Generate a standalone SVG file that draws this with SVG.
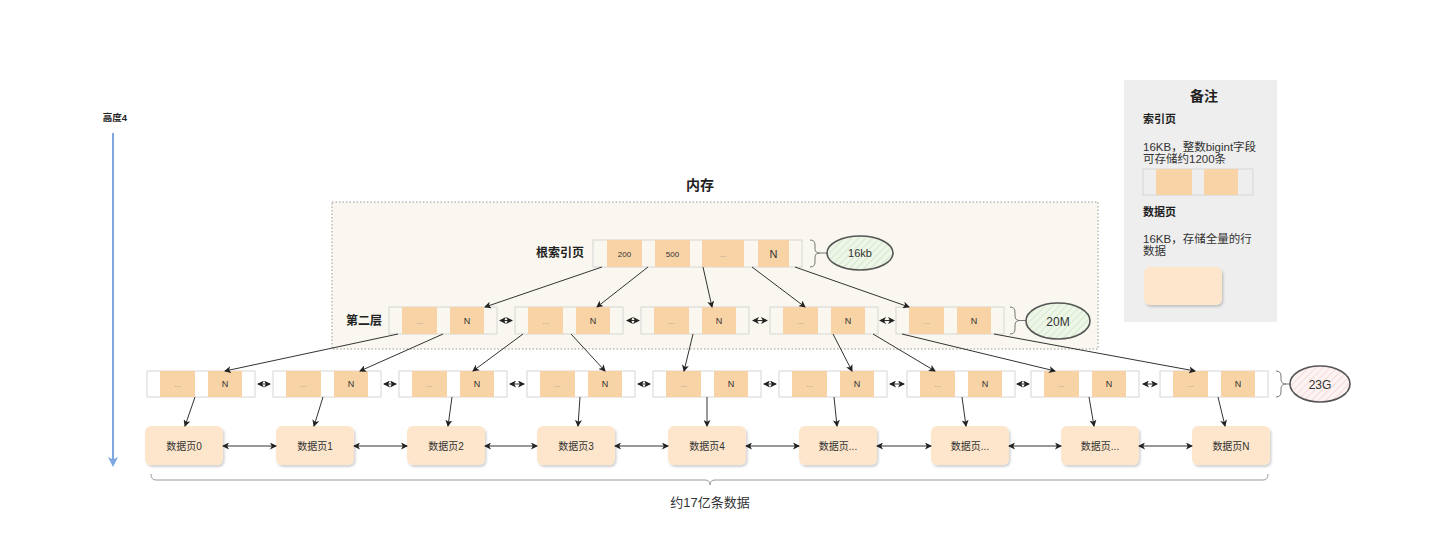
<svg xmlns="http://www.w3.org/2000/svg" width="1438" height="546" viewBox="0 0 1438 546">
<style>
text{font-family:"Liberation Sans","Noto Sans CJK SC",sans-serif;fill:#333}
.b{font-weight:bold;fill:#222}
.box{fill:none;stroke:#d6d6d6;stroke-width:1}
.cell{fill:#f8d3a6}
.sm{font-size:8px;text-anchor:middle}
.dots{font-size:8px;text-anchor:middle;fill:#999}
.n{font-size:9px;text-anchor:middle}
.page{fill:#fde6cc;filter:url(#sh)}
.pt{font-size:10px;text-anchor:middle}
.c{stroke:#333;stroke-width:1;fill:none;marker-end:url(#ah)}
.bi{stroke:#333;stroke-width:1;fill:none;marker-end:url(#ah);marker-start:url(#as)}
.br{stroke:#777;stroke-width:1;fill:none}
.ell{stroke:#555;stroke-width:1.6}
</style>
<defs>
<marker id="ah" markerWidth="7" markerHeight="7" refX="6" refY="3.5" orient="auto" markerUnits="userSpaceOnUse"><path d="M0,0 L7,3.5 L0,7 L1.8,3.5 z" fill="#222"/></marker>
<marker id="as" markerWidth="7" markerHeight="7" refX="1" refY="3.5" orient="auto" markerUnits="userSpaceOnUse"><path d="M7,0 L0,3.5 L7,7 L5.2,3.5 z" fill="#222"/></marker>
<marker id="ab" markerWidth="10" markerHeight="10" refX="8" refY="5" orient="auto" markerUnits="userSpaceOnUse"><path d="M0,0 L10,5 L0,10 L2.5,5 z" fill="#7ea6e0"/></marker>
<pattern id="hg" width="5" height="5" patternUnits="userSpaceOnUse" patternTransform="rotate(45)"><rect width="5" height="5" fill="#eef6e8"/><line x1="0" y1="0" x2="0" y2="5" stroke="#cfe4c6" stroke-width="1.5"/></pattern>
<pattern id="hp" width="5" height="5" patternUnits="userSpaceOnUse" patternTransform="rotate(45)"><rect width="5" height="5" fill="#fcf3f2"/><line x1="0" y1="0" x2="0" y2="5" stroke="#f3d3d0" stroke-width="1.5"/></pattern>
<filter id="sh" x="-10%" y="-10%" width="130%" height="140%"><feDropShadow dx="1.5" dy="2" stdDeviation="1" flood-color="#000" flood-opacity="0.18"/></filter>
</defs>
<rect width="1438" height="546" fill="#fff"/>

<!-- height axis -->
<g id="height">
<text class="b" x="115" y="121" font-size="9.5" text-anchor="middle">高度4</text>
<line x1="113" y1="133" x2="113" y2="465" stroke="#7ea6e0" stroke-width="2" marker-end="url(#ab)"/>
</g>

<!-- memory container -->
<g id="memory">
<rect x="332" y="202" width="766" height="147" fill="#f9f7ef" stroke="#999" stroke-dasharray="1.5 2"/>
<text class="b" x="700" y="190" font-size="14" text-anchor="middle">内存</text>
</g>

<!-- root -->
<g id="root">
<text class="b" x="584" y="257" font-size="12" text-anchor="end">根索引页</text>
<rect class="box" x="593" y="240" width="209" height="27"/>
<rect class="cell" x="607" y="240" width="35" height="27"/>
<rect class="cell" x="655" y="240" width="35" height="27"/>
<rect class="cell" x="702" y="240" width="42" height="27"/>
<rect class="cell" x="758" y="240" width="31" height="27"/>
<text class="sm" x="624.5" y="256.5">200</text>
<text class="sm" x="672.5" y="256.5">500</text>
<text class="dots" x="723" y="256.5">...</text>
<text x="773.5" y="257.5" font-size="11" text-anchor="middle">N</text>
</g>
<g id="root-size">
<path class="br" d="M810,240 Q815,240 815,245 L815,249 Q815,253 820,253 Q815,253 815,257 L815,262 Q815,267 810,267 M820,253 L827,253"/>
<ellipse class="ell" cx="860" cy="253" rx="33" ry="17" fill="url(#hg)"/>
<text x="860" y="257" font-size="11" text-anchor="middle">16kb</text>
</g>

<!-- layer 2 -->
<text class="b" x="382" y="325" font-size="12" text-anchor="end">第二层</text>
<g id="l2n1" transform="translate(389,307)"><rect class="box" width="108" height="27"/><rect class="cell" x="13" width="35" height="27"/><rect class="cell" x="61" width="34" height="27"/><text class="dots" x="30.5" y="16.5">...</text><text class="n" x="78" y="16.5">N</text></g>
<g id="l2n2" transform="translate(515,307)"><rect class="box" width="108" height="27"/><rect class="cell" x="13" width="35" height="27"/><rect class="cell" x="61" width="34" height="27"/><text class="dots" x="30.5" y="16.5">...</text><text class="n" x="78" y="16.5">N</text></g>
<g id="l2n3" transform="translate(641,307)"><rect class="box" width="108" height="27"/><rect class="cell" x="13" width="35" height="27"/><rect class="cell" x="61" width="34" height="27"/><text class="dots" x="30.5" y="16.5">...</text><text class="n" x="78" y="16.5">N</text></g>
<g id="l2n4" transform="translate(770,307)"><rect class="box" width="108" height="27"/><rect class="cell" x="13" width="35" height="27"/><rect class="cell" x="61" width="34" height="27"/><text class="dots" x="30.5" y="16.5">...</text><text class="n" x="78" y="16.5">N</text></g>
<g id="l2n5" transform="translate(896,307)"><rect class="box" width="108" height="27"/><rect class="cell" x="13" width="35" height="27"/><rect class="cell" x="61" width="34" height="27"/><text class="dots" x="30.5" y="16.5">...</text><text class="n" x="78" y="16.5">N</text></g>
<g id="l2-size">
<path class="br" d="M1010,307 Q1015,307 1015,312 L1015,316 Q1015,320.5 1020,320.5 Q1015,320.5 1015,325 L1015,329 Q1015,334 1010,334 M1020,320.5 L1026,320.5"/>
<ellipse class="ell" cx="1058" cy="321" rx="32" ry="18" fill="url(#hg)"/>
<text x="1058" y="325.5" font-size="12" text-anchor="middle">20M</text>
</g>

<!-- layer 3 -->
<g id="l3n1" transform="translate(147,371)"><rect class="box" width="108" height="26"/><rect class="cell" x="13" width="35" height="26"/><rect class="cell" x="61" width="34" height="26"/><text class="dots" x="30.5" y="16">...</text><text class="n" x="78" y="16">N</text></g>
<g id="l3n2" transform="translate(273,371)"><rect class="box" width="108" height="26"/><rect class="cell" x="13" width="35" height="26"/><rect class="cell" x="61" width="34" height="26"/><text class="dots" x="30.5" y="16">...</text><text class="n" x="78" y="16">N</text></g>
<g id="l3n3" transform="translate(399,371)"><rect class="box" width="108" height="26"/><rect class="cell" x="13" width="35" height="26"/><rect class="cell" x="61" width="34" height="26"/><text class="dots" x="30.5" y="16">...</text><text class="n" x="78" y="16">N</text></g>
<g id="l3n4" transform="translate(527,371)"><rect class="box" width="108" height="26"/><rect class="cell" x="13" width="35" height="26"/><rect class="cell" x="61" width="34" height="26"/><text class="dots" x="30.5" y="16">...</text><text class="n" x="78" y="16">N</text></g>
<g id="l3n5" transform="translate(653,371)"><rect class="box" width="108" height="26"/><rect class="cell" x="13" width="35" height="26"/><rect class="cell" x="61" width="34" height="26"/><text class="dots" x="30.5" y="16">...</text><text class="n" x="78" y="16">N</text></g>
<g id="l3n6" transform="translate(779,371)"><rect class="box" width="108" height="26"/><rect class="cell" x="13" width="35" height="26"/><rect class="cell" x="61" width="34" height="26"/><text class="dots" x="30.5" y="16">...</text><text class="n" x="78" y="16">N</text></g>
<g id="l3n7" transform="translate(907,371)"><rect class="box" width="108" height="26"/><rect class="cell" x="13" width="35" height="26"/><rect class="cell" x="61" width="34" height="26"/><text class="dots" x="30.5" y="16">...</text><text class="n" x="78" y="16">N</text></g>
<g id="l3n8" transform="translate(1031,371)"><rect class="box" width="108" height="26"/><rect class="cell" x="13" width="35" height="26"/><rect class="cell" x="61" width="34" height="26"/><text class="dots" x="30.5" y="16">...</text><text class="n" x="78" y="16">N</text></g>
<g id="l3n9" transform="translate(1160,371)"><rect class="box" width="108" height="26"/><rect class="cell" x="13" width="35" height="26"/><rect class="cell" x="61" width="34" height="26"/><text class="dots" x="30.5" y="16">...</text><text class="n" x="78" y="16">N</text></g>
<g id="l3-size">
<path class="br" d="M1276,371 Q1281,371 1281,376 L1281,379.5 Q1281,384 1286,384 Q1281,384 1281,388.5 L1281,392 Q1281,397 1276,397 M1286,384 L1290,384"/>
<ellipse class="ell" cx="1320" cy="384" rx="30" ry="18" fill="url(#hp)"/>
<text x="1320" y="388.5" font-size="12" text-anchor="middle">23G</text>
</g>

<!-- data pages -->
<g id="p0"><rect class="page" x="145" y="426" width="78" height="39" rx="6"/><text class="pt" x="184" y="449.5">数据页0</text></g>
<g id="p1"><rect class="page" x="276" y="426" width="78" height="39" rx="6"/><text class="pt" x="315" y="449.5">数据页1</text></g>
<g id="p2"><rect class="page" x="407" y="426" width="78" height="39" rx="6"/><text class="pt" x="446" y="449.5">数据页2</text></g>
<g id="p3"><rect class="page" x="537" y="426" width="78" height="39" rx="6"/><text class="pt" x="576" y="449.5">数据页3</text></g>
<g id="p4"><rect class="page" x="668" y="426" width="78" height="39" rx="6"/><text class="pt" x="707" y="449.5">数据页4</text></g>
<g id="p5"><rect class="page" x="799" y="426" width="78" height="39" rx="6"/><text class="pt" x="838" y="449.5">数据页...</text></g>
<g id="p6"><rect class="page" x="931" y="426" width="78" height="39" rx="6"/><text class="pt" x="970" y="449.5">数据页...</text></g>
<g id="p7"><rect class="page" x="1061" y="426" width="78" height="39" rx="6"/><text class="pt" x="1100" y="449.5">数据页...</text></g>
<g id="p8"><rect class="page" x="1192" y="426" width="78" height="39" rx="6"/><text class="pt" x="1231" y="449.5">数据页N</text></g>

<g id="total">
<path stroke="#999" stroke-width="1" fill="none" d="M151,474 Q151,480 156,480 L705,480 Q710,480 710,485 Q710,480 715,480 L1263,480 Q1268,480 1268,474"/>
<text x="710" y="507" font-size="13" text-anchor="middle">约17亿条数据</text>
</g>

<!-- connectors -->
<g id="connectors">
<line class="c" x1="602" y1="267" x2="485" y2="307"/>
<line class="c" x1="648" y1="267" x2="597" y2="307"/>
<line class="c" x1="703" y1="267" x2="712" y2="307"/>
<line class="c" x1="752" y1="267" x2="805" y2="307"/>
<line class="c" x1="795" y1="267" x2="909" y2="307"/>

<line class="bi" x1="500" y1="320.5" x2="512" y2="320.5"/>
<line class="bi" x1="627" y1="320.5" x2="639" y2="320.5"/>
<line class="bi" x1="753" y1="320.5" x2="767" y2="320.5"/>
<line class="bi" x1="880" y1="320.5" x2="894" y2="320.5"/>

<line class="c" x1="398" y1="334" x2="225" y2="371"/>
<line class="c" x1="443" y1="334" x2="360" y2="371"/>
<line class="c" x1="523" y1="334" x2="473" y2="371"/>
<line class="c" x1="571" y1="334" x2="605" y2="371"/>
<line class="c" x1="693" y1="334" x2="684" y2="371"/>
<line class="c" x1="833" y1="334" x2="852" y2="371"/>
<line class="c" x1="873" y1="334" x2="935" y2="371"/>
<line class="c" x1="902" y1="334" x2="1055" y2="371"/>
<line class="c" x1="994" y1="334" x2="1195" y2="371"/>

<line class="bi" x1="258" y1="384" x2="270" y2="384"/>
<line class="bi" x1="384" y1="384" x2="396" y2="384"/>
<line class="bi" x1="510" y1="384" x2="524" y2="384"/>
<line class="bi" x1="638" y1="384" x2="650" y2="384"/>
<line class="bi" x1="764" y1="384" x2="776" y2="384"/>
<line class="bi" x1="890" y1="384" x2="904" y2="384"/>
<line class="bi" x1="1017" y1="384" x2="1029" y2="384"/>
<line class="bi" x1="1143" y1="384" x2="1157" y2="384"/>

<line class="c" x1="195" y1="397" x2="185" y2="426"/>
<line class="c" x1="323" y1="397" x2="314" y2="426"/>
<line class="c" x1="452" y1="397" x2="448" y2="426"/>
<line class="c" x1="580" y1="397" x2="578" y2="426"/>
<line class="c" x1="707" y1="397" x2="707" y2="426"/>
<line class="c" x1="834" y1="397" x2="837" y2="426"/>
<line class="c" x1="962" y1="397" x2="966" y2="426"/>
<line class="c" x1="1089" y1="397" x2="1094" y2="426"/>
<line class="c" x1="1218" y1="397" x2="1225" y2="426"/>

<line class="bi" x1="223" y1="446" x2="276" y2="446"/>
<line class="bi" x1="354" y1="446" x2="407" y2="446"/>
<line class="bi" x1="485" y1="446" x2="537" y2="446"/>
<line class="bi" x1="615" y1="446" x2="668" y2="446"/>
<line class="bi" x1="746" y1="446" x2="799" y2="446"/>
<line class="bi" x1="877" y1="446" x2="931" y2="446"/>
<line class="bi" x1="1009" y1="446" x2="1061" y2="446"/>
<line class="bi" x1="1139" y1="446" x2="1192" y2="446"/>
</g>

<!-- legend -->
<g id="legend">
<rect x="1124" y="80" width="153" height="242" fill="#eeeeee"/>
<text class="b" x="1204" y="101" font-size="14" text-anchor="middle">备注</text>
<text class="b" x="1143" y="123" font-size="11">索引页</text>
<text x="1143" y="151" font-size="11.5">16KB，整数bigint字段</text>
<text x="1143" y="163" font-size="11.5">可存储约1200条</text>
<rect class="box" x="1143" y="169" width="110" height="26"/>
<rect class="cell" x="1156" y="169" width="36" height="26"/>
<rect class="cell" x="1204" y="169" width="34" height="26"/>
<text class="b" x="1143" y="216" font-size="11">数据页</text>
<text x="1143" y="243" font-size="11.5">16KB，存储全量的行</text>
<text x="1143" y="255" font-size="11.5">数据</text>
<rect class="page" x="1144" y="267" width="78" height="38" rx="6"/>
</g>
</svg>
